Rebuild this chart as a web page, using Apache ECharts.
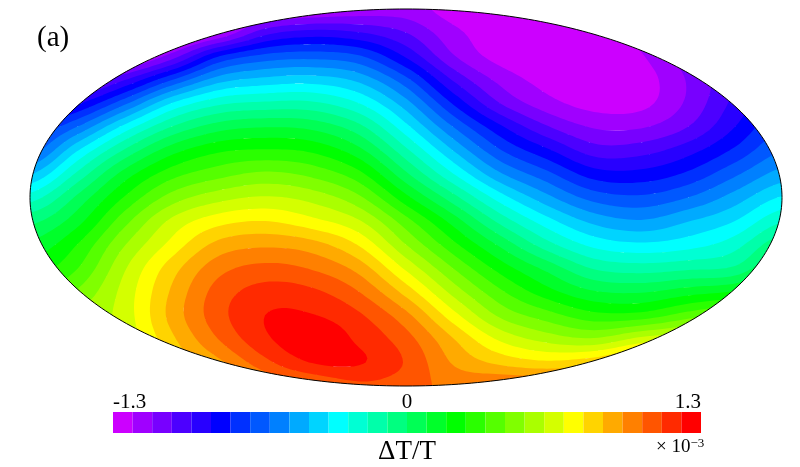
<!DOCTYPE html>
<html><head><meta charset="utf-8">
<style>html,body{margin:0;padding:0;background:#fff}#c{width:800px;height:467px}</style>
<script src="https://cdn.jsdelivr.net/npm/echarts@6/dist/echarts.min.js"></script>
</head><body><div id="c"></div>
<script>
// Colour-bar scale: 30 levels from -1.3 to 1.3 (x 10^-3)
const bandColors = ['#cc00ff','#a000ff','#7800ff','#4c00ff','#2800ff','#0000ff','#0030ff','#0058ff','#0080ff','#00aaff',
 '#00d4ff','#00ffff','#00ffd4','#00ffaa','#00ff80','#00ff55','#00ff2a','#00ff00','#2aff00','#55ff00',
 '#80ff00','#aaff00','#d4ff00','#ffff00','#ffd400','#ffaa00','#ff8000','#ff5500','#ff2a00','#ff0000'];
const tickValues = [-1.3, 0, 1.3];
// Map sample positions (projected longitude / latitude-like coordinate)
const mapX = [-180,-157.5,-135,-112.5,-90,-67.5,-45,-22.5,0,22.5,45,67.5,90,112.5,135,157.5,180];
const mapY = [90,78.75,67.5,56.25,45,33.75,22.5,11.25,0,-11.25,-22.5,-33.75,-45,-56.25,-67.5,-78.75,-90];
// Field, in colour-bar level units (0 = -1.3, 30 = +1.3), one list per map column, top to bottom
const col00 = [3,3,3,3,3.5,5.8,7.4,9.9,12.5,14.7,16.2,17.4,18.5,19,19.2,19,18.7];
const col01 = [2.5,2,1.5,2,4.8,8,10.9,13.2,15.2,16.6,18,18.95,20.1,21,21,20.5,20];
const col02 = [2,1.5,0.5,3.9,7.7,11.3,14.1,16.4,18.05,19.6,20.9,21.85,22.35,22.45,22.2,21.5,20.5];
const col03 = [1,0,2.4,6.9,11,14,16.55,18.55,20.4,22.2,23.3,24.5,25.1,25.3,24.75,24,23];
const col04 = [0,1,5.9,9.5,12.75,15.5,17.8,19.6,21.6,23.6,25.3,26.6,27.4,27.6,27,25.7,24];
const col05 = [0.5,3.6,7.3,10.3,13.2,15.95,18.1,20.2,22.1,24,25.8,27.3,28.4,29,28.8,27.7,26];
const col06 = [1,4.4,7.6,10.5,13.2,15.7,17.8,19.7,21.6,23.3,25.4,26.9,28.2,29.05,29.7,29.05,27];
const col07 = [1.4,4.05,7.1,9.7,12,14.3,16.3,18.3,20.2,22.1,23.9,25.6,27,28.15,28.8,29.1,27.8];
const col08 = [1.5,3,4.85,7.3,9.4,11.3,13.25,15.2,17.3,19.4,21,22.8,24.6,26.3,27.4,27.9,27.5];
const col09 = [0.5,1.3,2.1,3.9,5.9,8,10,12.05,14.4,16.6,18.3,20,21.65,23.4,25.05,25.9,26.7];
const col10 = [0,0.3,0.6,1.7,3,5.2,7.1,9.15,11.5,13.7,15.8,17.6,19.2,20.8,22.8,24.75,27];
const col11 = [0,0,0.3,0.6,1.4,3.1,5.2,7.3,9.3,11.4,13.4,15.7,17.4,19.45,21.6,24.2,27];
const col12 = [0,0,0,0.2,0.6,1.9,3.5,5.5,7.6,9.7,11.7,13.9,16.1,18.35,21.1,24.7,27];
const col13 = [2,1.5,0.9,0.5,0.7,1.9,3.6,5.35,7.2,9.1,11.2,13.5,15.9,18.4,22.3,26,28];
const col14 = [3,3,2.6,2.1,2.2,3,4.6,6.2,8,9.95,11.6,13.8,16.55,19.5,23,26,28];
const col15 = [5,4.5,4,3.9,4.3,5,6.2,7.8,9.45,11,12.6,14.2,17.1,20.5,24,27,29];
const col16 = [5,5,5,5.5,6,7,8,9.4,11.1,12.9,14.8,16.5,18.5,21,24,27,29];
const columns = [col00,col01,col02,col03,col04,col05,col06,col07,col08,col09,col10,col11,col12,col13,col14,col15,col16];

const SUB_X = 11, SUB_Y = 6; // contouring resolution inside each sampled cell
function cr(a,b,c,d,t){return 0.5*((2*b)+(-a+c)*t+(2*a-5*b+4*c-d)*t*t+(-a+3*b-3*c+d)*t*t*t);}
function at(i,j){i=Math.max(0,Math.min(columns.length-1,i));j=Math.max(0,Math.min(mapY.length-1,j));return columns[i][j];}
function fine(){
  const nx=(mapX.length-1)*SUB_X, ny=(mapY.length-1)*SUB_Y, g=[];
  for(let a=0;a<=nx;a++){
    const i=Math.min(Math.floor(a/SUB_X),mapX.length-2), tx=a/SUB_X-i, c=[];
    for(let b=0;b<=ny;b++){
      const j=Math.min(Math.floor(b/SUB_Y),mapY.length-2), ty=b/SUB_Y-j, r=[];
      for(let k=-1;k<=2;k++) r.push(cr(at(i+k,j-1),at(i+k,j),at(i+k,j+1),at(i+k,j+2),ty));
      c.push(cr(r[0],r[1],r[2],r[3],tx));
    }
    g.push(c);
  }
  return g;
}
function clip(poly,lim,keepAbove){
  const out=[];
  for(let i=0;i<poly.length;i++){
    const p=poly[i],q=poly[(i+1)%poly.length];
    const pin=keepAbove?p[2]>=lim:p[2]<lim, qin=keepAbove?q[2]>=lim:q[2]<lim;
    if(pin) out.push(p);
    if(pin!==qin){const t=(lim-p[2])/(q[2]-p[2]);out.push([p[0]+t*(q[0]-p[0]),p[1]+t*(q[1]-p[1]),lim]);}
  }
  return out;
}
function renderMap(params,api){
  const g=fine(), nx=g.length-1, ny=g[0].length-1;
  const x0=mapX[0], dx=(mapX[mapX.length-1]-x0)/nx, y0=mapY[0], dy=(mapY[mapY.length-1]-y0)/ny;
  const paths=bandColors.map(()=>[]);
  for(let a=0;a<nx;a++)for(let b=0;b<ny;b++){
    const X=x0+a*dx,Y=y0+b*dy;
    const q=[[X,Y,g[a][b]],[X+dx,Y,g[a+1][b]],[X+dx,Y+dy,g[a+1][b+1]],[X,Y+dy,g[a][b+1]]];
    const lo=Math.min(q[0][2],q[1][2],q[2][2],q[3][2]),hi=Math.max(q[0][2],q[1][2],q[2][2],q[3][2]);
    for(let k=0;k<bandColors.length;k++){
      const L=k===0?-1e9:k, H=k>=bandColors.length-1?1e9:k+2;
      if(hi<L||lo>=H) continue;
      if(lo>=k+1&&k<bandColors.length-1) continue; // fully covered by the next band
      let p=clip(q,L,true); if(p.length>2) p=clip(p,H,false);
      if(p.length<3) continue;
      let s='';
      p.forEach((v,i)=>{const c=api.coord([v[0],v[1]]);s+=(i?'L':'M')+c[0].toFixed(1)+' '+c[1].toFixed(1);});
      paths[k].push(s+'Z');
    }
  }
  const outline=[];
  for(let i=0;i<360;i++){const t=i*Math.PI/180;outline.push(api.coord([180*Math.cos(t),90*Math.sin(t)]));}
  const kids=paths.map((d,k)=>({type:'path',shape:{pathData:d.join('')||'M0 0Z'},style:{fill:bandColors[k],stroke:null},silent:true}));
  return {type:'group',children:[
    {type:'group',clipPath:{type:'polygon',shape:{points:outline}},children:kids},
    {type:'polygon',shape:{points:outline},style:{fill:'none',stroke:'#000',lineWidth:1},silent:true}
  ]};
}

const option={
  animation:false,
  backgroundColor:'#fff',
  grid:[
    {left:30,top:9,width:752,height:377,outerBoundsMode:'none'},
    {left:113,top:412,width:588,height:21,outerBoundsMode:'none'}
  ],
  xAxis:[
    {gridIndex:0,type:'value',min:-180,max:180,show:false},
    {gridIndex:1,type:'category',position:'bottom',data:bandColors.map((c,i)=>i),
      axisLine:{show:false},axisTick:{show:false},axisLabel:{show:false},
      name:'\u0394T/T',nameLocation:'middle',nameGap:5,nameTextStyle:{fontFamily:'Liberation Serif',fontSize:27,color:'#000'}},
    {gridIndex:1,type:'value',position:'top',min:-1.3,max:1.3,
      axisLine:{show:false},axisTick:{show:false},splitLine:{show:false},
      axisLabel:{customValues:tickValues,alignMinLabel:'left',alignMaxLabel:'right',margin:-1,
        formatter:v=>v===0?'0':String(v),fontFamily:'Liberation Serif',fontSize:21,color:'#000'}}
  ],
  yAxis:[
    {gridIndex:0,type:'value',min:-90,max:90,show:false},
    {gridIndex:1,type:'value',min:0,max:1,show:false}
  ],
  series:[
    {type:'custom',xAxisIndex:0,yAxisIndex:0,data:[[0,0]],renderItem:renderMap,clip:false,silent:true},
    {type:'bar',xAxisIndex:1,yAxisIndex:1,barWidth:'100%',silent:true,
      data:bandColors.map(c=>({value:1,itemStyle:{color:c}}))}
  ],
  graphic:[
    {type:'text',left:37,top:24,style:{text:'(a)',fontFamily:'Liberation Serif',fontSize:29,fill:'#000'}},
    {type:'text',left:656,top:437,style:{rich:{m:{fontFamily:'Liberation Serif',fontSize:19,fill:'#000'},s:{fontFamily:'Liberation Serif',fontSize:13,fill:'#000',verticalAlign:'top',padding:[0,0,8,0]}},text:'{m|\u00d7 10}{s|\u22123}'}}
  ]
};
const chart=echarts.init(document.getElementById('c'),null,{renderer:'canvas',width:800,height:467});
chart.setOption(option);
</script></body></html>
